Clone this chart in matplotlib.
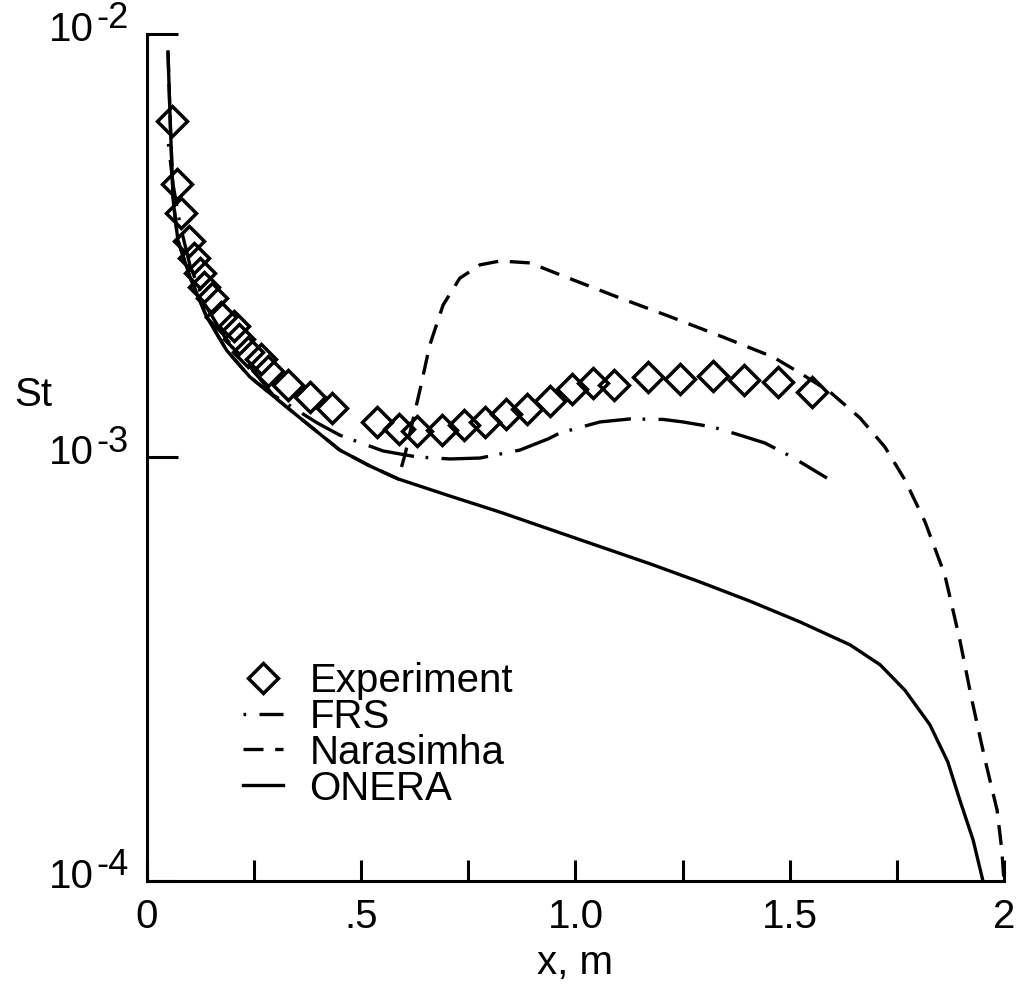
import matplotlib.pyplot as plt
from matplotlib.ticker import NullLocator

plt.rcParams['font.family'] = ['Liberation Sans', 'DejaVu Sans']

# Experiment (diamonds)
exp_x = [0.059, 0.069, 0.080, 0.097, 0.110, 0.124, 0.134, 0.151, 0.173, 0.204,
         0.215, 0.236, 0.266, 0.283, 0.328, 0.380, 0.432, 0.536, 0.589, 0.629,
         0.688, 0.740, 0.789, 0.837, 0.886, 0.940, 0.993, 1.042, 1.091, 1.170,
         1.245, 1.322, 1.394, 1.473, 1.551]
exp_st = [6.23e-3, 4.42e-3, 3.78e-3, 3.24e-3, 2.96e-3, 2.73e-3, 2.52e-3, 2.38e-3, 2.15e-3, 2.04e-3,
          1.90e-3, 1.77e-3, 1.71e-3, 1.60e-3, 1.48e-3, 1.39e-3, 1.31e-3, 1.21e-3, 1.17e-3, 1.157e-3,
          1.16e-3, 1.19e-3, 1.21e-3, 1.27e-3, 1.30e-3, 1.36e-3, 1.45e-3, 1.50e-3, 1.48e-3, 1.55e-3,
          1.53e-3, 1.56e-3, 1.52e-3, 1.51e-3, 1.43e-3]

# FRS (dash-dot)
frs_x = [0.050, 0.061, 0.077, 0.100, 0.135, 0.182, 0.240, 0.294, 0.397, 0.450,
         0.551, 0.630, 0.707, 0.777, 0.870, 0.936, 0.964, 1.057, 1.127, 1.204,
         1.251, 1.321, 1.384, 1.442, 1.505, 1.587]
frs_st = [5.5e-3, 4.4e-3, 3.55e-3, 2.85e-3, 2.3e-3, 1.92e-3, 1.64e-3, 1.405e-3, 1.207e-3, 1.129e-3,
          1.036e-3, 1.003e-3, 9.92e-4, 9.97e-4, 1.041e-3, 1.106e-3, 1.143e-3, 1.213e-3, 1.233e-3, 1.23e-3,
          1.213e-3, 1.18e-3, 1.129e-3, 1.082e-3, 1.003e-3, 8.94e-4]

# ONERA (solid)
onera_x = [0.049, 0.054, 0.061, 0.072, 0.100, 0.139, 0.186, 0.240, 0.357, 0.450,
           0.520, 0.586, 0.707, 0.824, 1.000, 1.174, 1.291, 1.407, 1.524, 1.641,
           1.711, 1.769, 1.827, 1.869, 1.897, 1.928, 1.951]
onera_st = [9.07e-3, 6.3e-3, 4.06e-3, 3.26e-3, 2.67e-3, 2.15e-3, 1.79e-3, 1.55e-3, 1.24e-3, 1.041e-3,
            9.55e-4, 8.9e-4, 8.11e-4, 7.43e-4, 6.45e-4, 5.61e-4, 5.08e-4, 4.58e-4, 4.09e-4, 3.61e-4,
            3.24e-4, 2.82e-4, 2.34e-4, 1.91e-4, 1.553e-4, 1.25e-4, 1.0e-4]

# Narasimha (dashed) - same as ONERA up to transition
nar_x = onera_x[:12] + [0.602, 0.618, 0.637, 0.660, 0.691, 0.730, 0.777, 0.824, 0.894, 0.964,
                        1.099, 1.221, 1.344, 1.461, 1.524, 1.594, 1.664, 1.722, 1.769, 1.816,
                        1.862, 1.897, 1.925, 1.956, 1.984, 1.995, 2.0]
nar_st = onera_st[:12] + [1.014e-3, 1.193e-3, 1.443e-3, 1.843e-3, 2.29e-3, 2.65e-3, 2.85e-3, 2.91e-3, 2.88e-3, 2.70e-3,
                          2.39e-3, 2.15e-3, 1.925e-3, 1.727e-3, 1.583e-3, 1.428e-3, 1.24e-3, 1.059e-3, 8.85e-4, 7.04e-4,
                          5.28e-4, 3.71e-4, 2.68e-4, 1.93e-4, 1.47e-4, 1.184e-4, 1.0e-4]

xticks = [0, 0.5, 1.0, 1.5, 2.0]
xticklabels = ['0', '.5', '1.0', '1.5', '2']
xminor = [0.25, 0.75, 1.25, 1.75]
yticks = [1e-4, 1e-3, 1e-2]
yexps = ['-4', '-3', '-2']

fig = plt.figure(figsize=(10.18, 9.9), dpi=100)
ax = fig.add_axes([0.1444, 0.1101, 0.8418, 0.8556])

ax.plot(exp_x, exp_st, 'D', ms=15, mfc='none', mec='black', mew=2.5, label='Experiment', zorder=3)
ax.plot(frs_x, frs_st, color='black', lw=2.4, ls=(17.5, (14, 3.5, 0.8, 4)), label='FRS')
ax.plot(nar_x, nar_st, color='black', lw=2.4, ls=(0, (6, 3.5)), label='Narasimha')
ax.plot(onera_x, onera_st, color='black', lw=2.4, label='ONERA')

ax.set_yscale('log')
ax.set_xlim(0, 2)
ax.set_ylim(1e-4, 1e-2)

for s in ['top', 'right']:
    ax.spines[s].set_visible(False)
for s in ['left', 'bottom']:
    ax.spines[s].set_linewidth(2.2)

ax.set_xticks(xticks)
ax.set_xticklabels(xticklabels, fontsize=29)
ax.set_xticks(xminor, minor=True)
ax.tick_params(axis='x', which='both', direction='in', length=15, width=2.2, pad=12)

ax.set_yticks(yticks)
ax.set_yticklabels(['' for v in yticks])
ax.yaxis.set_minor_locator(NullLocator())
ax.tick_params(axis='y', which='major', direction='in', length=22, width=2.2)

for v, e in zip(yticks, yexps):
    ax.annotate('10', xy=(0, v), xycoords=('axes fraction', 'data'), xytext=(-38, -5),
                textcoords='offset points', ha='right', va='baseline', fontsize=29,
                annotation_clip=False)
    ax.annotate(e, xy=(0, v), xycoords=('axes fraction', 'data'), xytext=(-13, 4.3),
                textcoords='offset points', ha='right', va='baseline', fontsize=26,
                annotation_clip=False)

ax.set_xlabel('x, m', fontsize=29, labelpad=6)
ax.set_ylabel('St', fontsize=29, rotation=0, ha='center', va='center')
ax.yaxis.set_label_coords(-0.133, 0.574)

ax.legend(loc='upper left', bbox_to_anchor=(0.112, 0.259), frameon=False, fontsize=29,
          borderpad=0, borderaxespad=0, handlelength=1.0, handletextpad=0.65,
          labelspacing=-0.05)

plt.savefig('out.png', dpi=100)
